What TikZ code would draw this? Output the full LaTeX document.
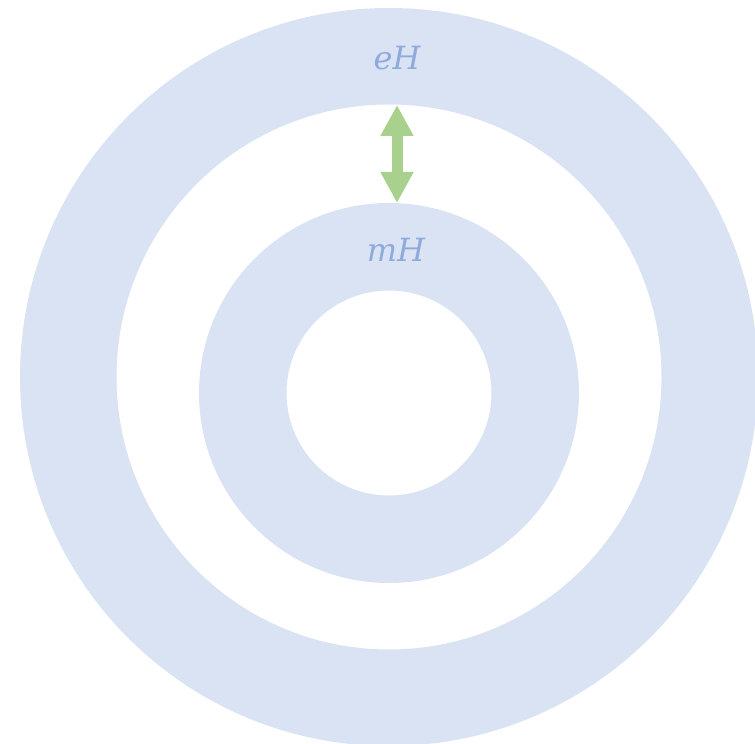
\documentclass[tikz,border=0pt]{standalone}
\usepackage{fontspec}
\setmainfont{DejaVu Serif}
\usetikzlibrary{arrows.meta}
\definecolor{ringblue}{HTML}{DAE3F3}
\definecolor{labelblue}{HTML}{8FAADC}
\definecolor{arrowgreen}{HTML}{A9D18E}
\tikzset{
  ring/.style={fill=ringblue,even odd rule,draw=none},
  lbl/.style={text=labelblue,font=\fontsize{32}{36}\selectfont\itshape,inner sep=0pt},
  dblarrow/.style={draw=arrowgreen,line width=11pt,
    {Triangle[width=31pt,length=31pt]}-{Triangle[width=31pt,length=31pt]}}
}
\begin{document}
\begin{tikzpicture}[x=1pt,y=1pt]
\useasboundingbox (0,0) rectangle (755,744);
\begin{scope}
\clip (0,0) rectangle (755,744);
\fill[ring] (389,367) circle[radius=369] (389,367) circle[radius=272.5];
\fill[ring] (389,351) circle[radius=190] (389,351) circle[radius=102.5];
\end{scope}
\node[lbl] (eh) at (397,686) {eH};
\node[lbl] (mh) at (396,494) {mH};
\coordinate (atop) at (397,639);
\coordinate (abot) at (397,541);
\draw[dblarrow] (atop) -- (abot);
\end{tikzpicture}
\end{document}
